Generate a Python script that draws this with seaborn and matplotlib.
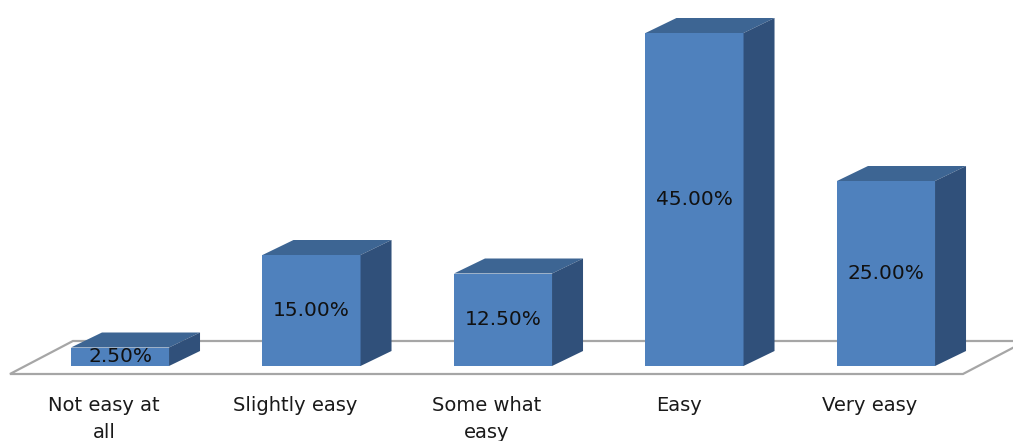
import matplotlib
matplotlib.use("Agg")
import matplotlib.pyplot as plt
import matplotlib.transforms as mtransforms
from matplotlib.patches import Polygon
import seaborn as sns

# data
categories = ["Not easy at\nall", "Slightly easy", "Some what\neasy", "Easy", "Very easy"]
values = [2.5, 15.0, 12.5, 45.0, 25.0]

FRONT = "#4F81BD"
TOP = "#3D6593"
SIDE = "#30507A"

sns.set_theme(style="white")
plt.rcParams["font.family"] = ["DejaVu Sans"]

fig = plt.figure(figsize=(10.13, 4.41), dpi=100)
ax = fig.add_axes([0, 0, 1, 1])

sns.barplot(x=categories, y=values, color=FRONT, saturation=1, width=0.512,
            linewidth=0, edgecolor="none", ax=ax, zorder=3)

# pixel geometry of the reference
ax.set_xlim(-120 / 191.5, (1013 - 120) / 191.5)
ax.set_ylim(-75 / 7.4, 366 / 7.4)
ax.set_axis_off()


def px_to_data(dx_px, dy_px):
    # convert a pixel offset into a data offset
    inv = ax.transData.inverted()
    p0 = inv.transform((0, 0))
    p1 = inv.transform((dx_px, dy_px))
    return p1[0] - p0[0], p1[1] - p0[1]


ddx, ddy = px_to_data(31, 15)

# floor of the 3d plot
fx0, fy0 = px_to_data(-16, -8)
fx1, fy1 = px_to_data(47, 25)
fl_left = -0.627 + 10 / 191.5
fl_right = -0.627 + 963 / 191.5
floor = Polygon(
    [
        (fl_left, fy0),
        (fl_right, fy0),
        (fl_right + fx1 - fx0, fy1),
        (fl_left + fx1 - fx0, fy1),
    ],
    closed=True, facecolor="white", edgecolor="#A6A6A6", linewidth=1.6, zorder=1,
)
ax.add_patch(floor)

for bar, v in zip(ax.patches[:len(values)], values):
    x0 = bar.get_x()
    w = bar.get_width()
    h = bar.get_height()
    top = Polygon(
        [(x0, h), (x0 + w, h), (x0 + w + ddx, h + ddy), (x0 + ddx, h + ddy)],
        closed=True, facecolor=TOP, edgecolor="none", zorder=3,
    )
    side = Polygon(
        [(x0 + w, 0), (x0 + w + ddx, ddy), (x0 + w + ddx, h + ddy), (x0 + w, h)],
        closed=True, facecolor=SIDE, edgecolor="none", zorder=3,
    )
    ax.add_patch(top)
    ax.add_patch(side)
    ax.text(x0 + w / 2, h / 2, f"{v:.2f}%", ha="center", va="center",
            fontsize=14.5, color="#111111", zorder=4)

# category labels sit on the front edge of the floor
lab_trans = mtransforms.offset_copy(ax.transData, fig=fig, x=-16, y=0, units="dots")
label_y = px_to_data(0, -(396 - 366))[1]
for i, c in enumerate(categories):
    ax.text(i, label_y, c, ha="center", va="top", fontsize=14, color="#1a1a1a",
            linespacing=1.55, transform=lab_trans)

fig.savefig("out.png", dpi=100)
